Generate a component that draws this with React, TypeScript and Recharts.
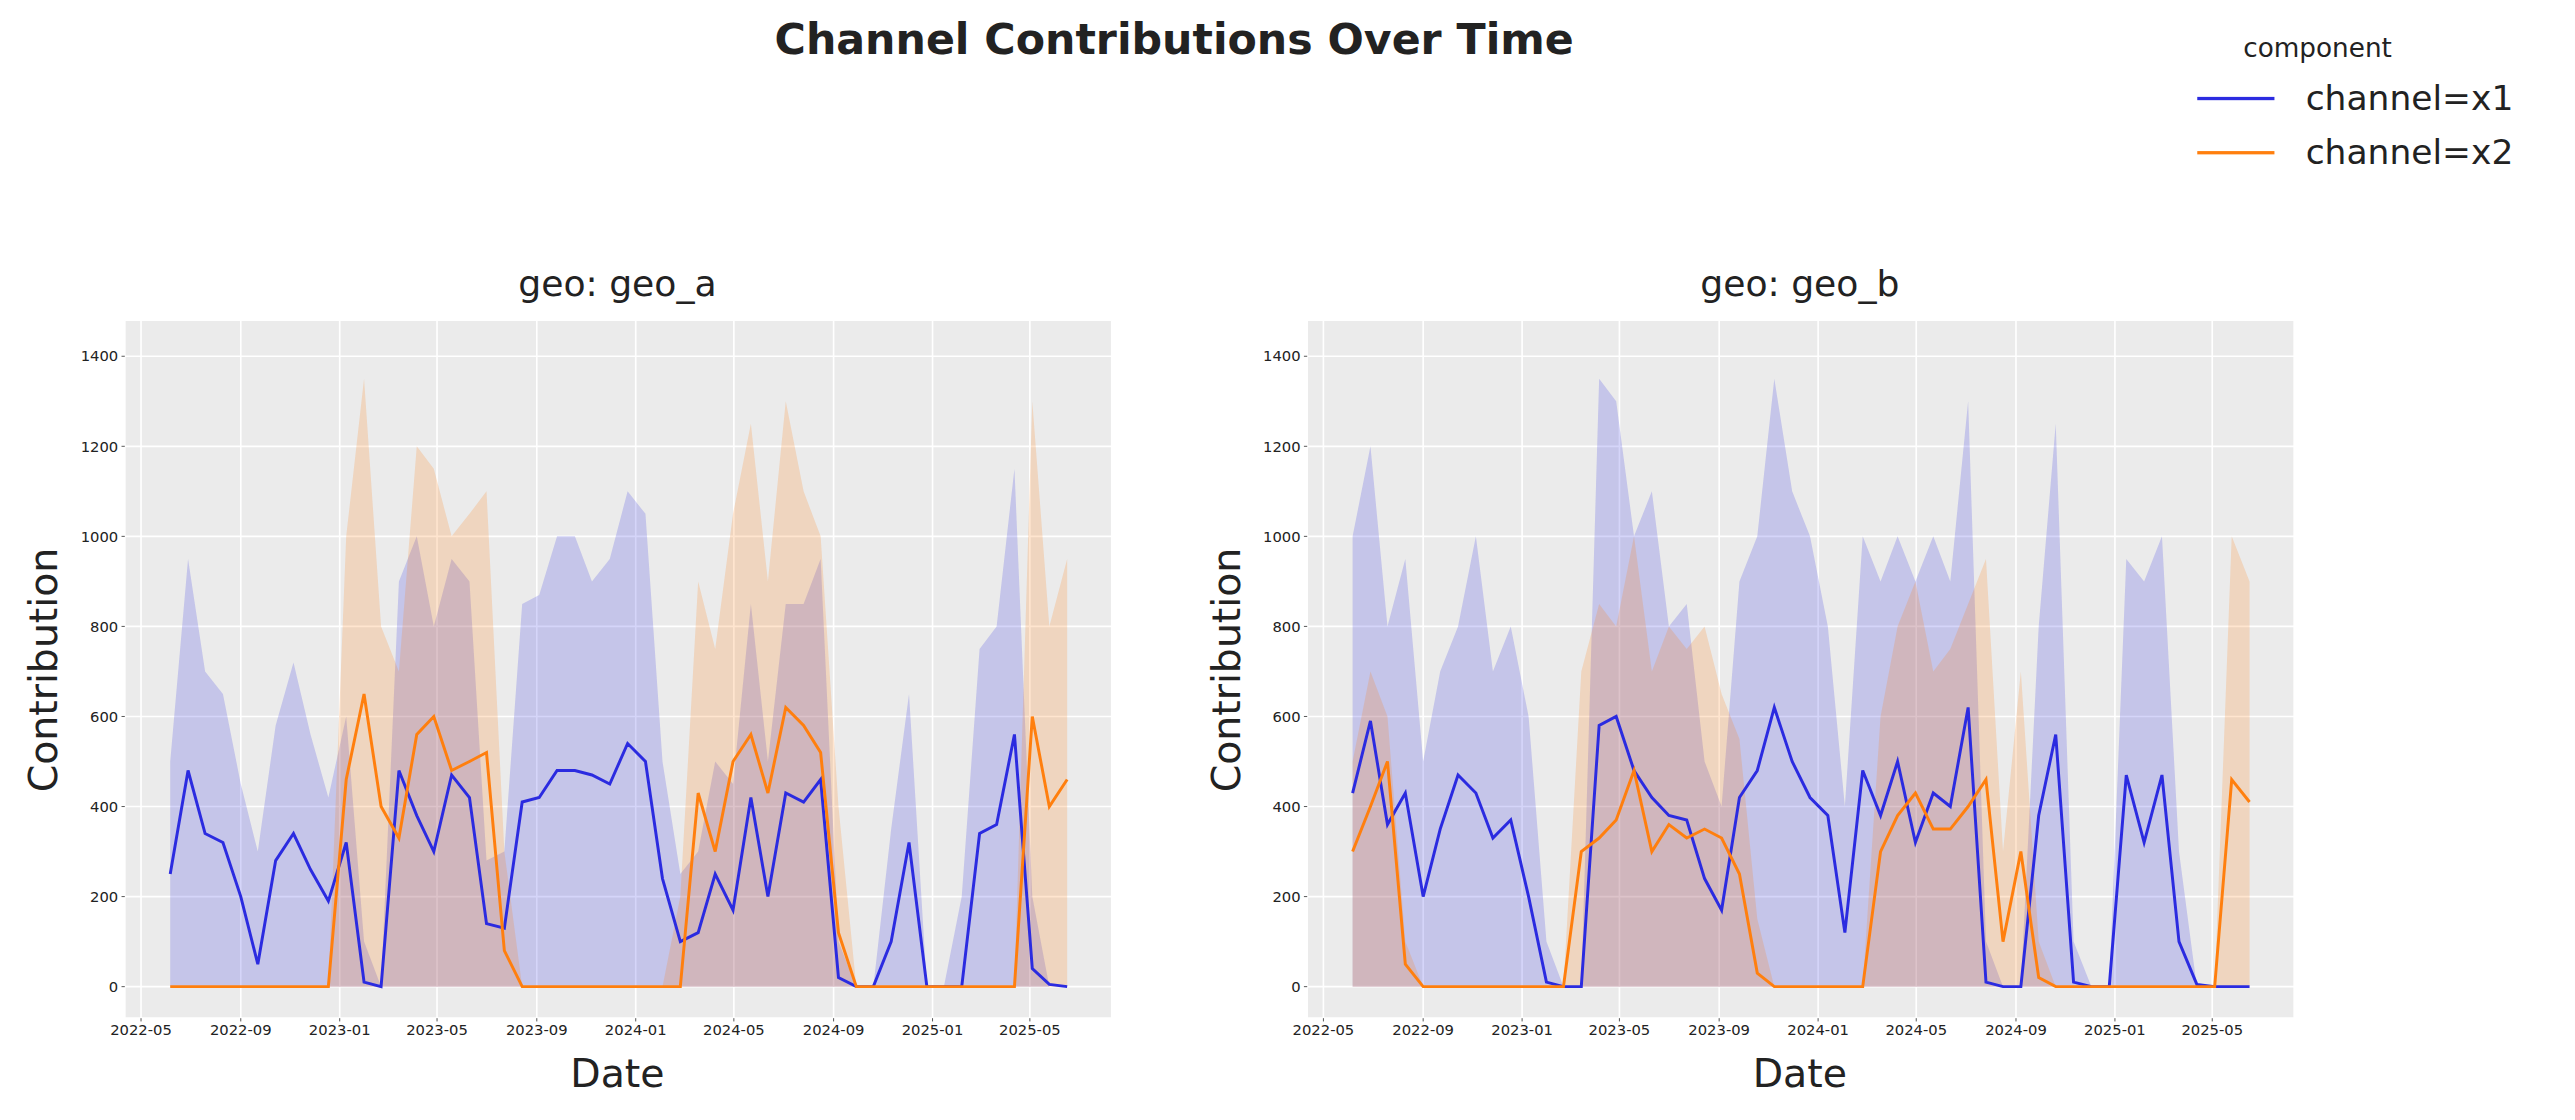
import React from "react";
import { Area, CartesianGrid, ComposedChart, Line, XAxis, YAxis } from "recharts";

const DAY = 86400000;
const START = Date.UTC(2022, 5, 6);
const END = Date.UTC(2025, 5, 16);
// weekly fits, sampled at 52 evenly spaced dates from first to last week
const dates = Array.from({ length: 52 }, (_, i) => START + Math.round(((END - START) / DAY) * (i / 51)) * DAY);

const aX1 = [250, 480, 340, 320, 200, 50, 280, 340, 260, 190, 320, 10, 0, 480, 380, 300, 470, 420, 140, 130, 410, 420, 480, 480, 470, 450, 540, 500, 240, 100, 120, 250, 170, 420, 200, 430, 410, 460, 20, 0, 0, 100, 320, 0, 0, 0, 340, 360, 560, 40, 5, 0];
const aX1Hi = [500, 950, 700, 650, 450, 300, 580, 720, 560, 420, 600, 100, 0, 900, 1000, 800, 950, 900, 280, 300, 850, 870, 1000, 1000, 900, 950, 1100, 1050, 500, 250, 300, 500, 450, 850, 500, 850, 850, 950, 100, 0, 0, 350, 650, 0, 0, 200, 750, 800, 1150, 200, 0, 0];
const aX2 = [0, 0, 0, 0, 0, 0, 0, 0, 0, 0, 460, 650, 400, 330, 560, 600, 480, 500, 520, 80, 0, 0, 0, 0, 0, 0, 0, 0, 0, 0, 430, 300, 500, 560, 430, 620, 580, 520, 120, 0, 0, 0, 0, 0, 0, 0, 0, 0, 0, 600, 400, 460];
const aX2Hi = [0, 0, 0, 0, 0, 0, 0, 0, 0, 0, 1000, 1350, 800, 700, 1200, 1150, 1000, 1050, 1100, 300, 0, 0, 0, 0, 0, 0, 0, 0, 0, 200, 900, 750, 1050, 1250, 900, 1300, 1100, 1000, 400, 0, 0, 0, 0, 0, 0, 0, 0, 0, 0, 1300, 800, 950];

const bX1 = [430, 590, 360, 430, 200, 350, 470, 430, 330, 370, 200, 10, 0, 0, 580, 600, 480, 420, 380, 370, 240, 170, 420, 480, 620, 500, 420, 380, 120, 480, 380, 500, 320, 430, 400, 620, 10, 0, 0, 380, 560, 10, 0, 0, 470, 320, 470, 100, 5, 0, 0, 0];
const bX1Hi = [1000, 1200, 800, 950, 500, 700, 800, 1000, 700, 800, 600, 100, 0, 0, 1350, 1300, 1000, 1100, 800, 850, 500, 400, 900, 1000, 1350, 1100, 1000, 800, 400, 1000, 900, 1000, 900, 1000, 900, 1300, 100, 0, 0, 800, 1250, 100, 0, 0, 950, 900, 1000, 300, 0, 0, 0, 0];
const bX2 = [300, 400, 500, 50, 0, 0, 0, 0, 0, 0, 0, 0, 0, 300, 330, 370, 480, 300, 360, 330, 350, 330, 250, 30, 0, 0, 0, 0, 0, 0, 300, 380, 430, 350, 350, 400, 460, 100, 300, 20, 0, 0, 0, 0, 0, 0, 0, 0, 0, 0, 460, 410];
const bX2Hi = [500, 700, 600, 100, 0, 0, 0, 0, 0, 0, 0, 0, 0, 700, 850, 800, 1000, 700, 800, 750, 800, 650, 550, 150, 0, 0, 0, 0, 0, 0, 600, 800, 900, 700, 750, 850, 950, 300, 700, 100, 0, 0, 0, 0, 0, 0, 0, 0, 0, 0, 1000, 900];

const xTicks = [
  Date.UTC(2022, 4, 1), Date.UTC(2022, 8, 1), Date.UTC(2023, 0, 1), Date.UTC(2023, 4, 1),
  Date.UTC(2023, 8, 1), Date.UTC(2024, 0, 1), Date.UTC(2024, 4, 1), Date.UTC(2024, 8, 1),
  Date.UTC(2025, 0, 1), Date.UTC(2025, 4, 1),
];
const yTicks = [0, 200, 400, 600, 800, 1000, 1200, 1400];

const BLUE = "#2b2be0";
const ORANGE = "#ff7f0e";

const fmt = (t: number) => {
  const d = new Date(t);
  return `${d.getUTCFullYear()}-${String(d.getUTCMonth() + 1).padStart(2, "0")}`;
};

function Panel({ left, title, x1, x1Hi, x2, x2Hi }: { left: number; title: string; x1: number[]; x1Hi: number[]; x2: number[]; x2Hi: number[] }) {
  const data = dates.map((t, i) => ({ t, x1: x1[i], b1: [0, x1Hi[i]], x2: x2[i], b2: [0, x2Hi[i]] }));
  return (
    <div style={{ position: "absolute", left, top: 0, width: 700, height: 700 }}>
      <div style={{ position: "absolute", left: 76, width: 600, top: 160, textAlign: "center", fontSize: 22, color: "#222" }}>{title}</div>
      <div style={{ position: "absolute", left: 12, top: 408, transform: "translate(0,-50%) rotate(-90deg)", transformOrigin: "center", width: 30, display: "flex", justifyContent: "center", whiteSpace: "nowrap", fontSize: 24, color: "#222" }}>
        Contribution
      </div>
      <div style={{ position: "absolute", left: 76, width: 600, top: 640, textAlign: "center", fontSize: 24, color: "#222" }}>Date</div>
      <ComposedChart width={700} height={700} data={data} margin={{ top: 195, right: 23, bottom: 50, left: 31 }}>
        <CartesianGrid fill="#ebebeb" stroke="#ffffff" strokeWidth={1} />
        <XAxis dataKey="t" type="number" scale="time" domain={[Date.UTC(2022, 3, 11), Date.UTC(2025, 7, 10)]} ticks={xTicks} tickFormatter={fmt} axisLine={false} tickLine={{ stroke: "#555", strokeWidth: 0.6 }} tickSize={2} tick={{ fontSize: 9, fill: "#222" }} height={30} />
        <YAxis domain={[-70, 1480]} ticks={yTicks} axisLine={false} tickLine={{ stroke: "#555", strokeWidth: 0.6 }} tickSize={2} tick={{ fontSize: 9, fill: "#222" }} width={45} />
        <Area dataKey="b1" stroke="none" fill={BLUE} fillOpacity={0.2} isAnimationActive={false} />
        <Area dataKey="b2" stroke="none" fill={ORANGE} fillOpacity={0.2} isAnimationActive={false} />
        <Line dataKey="x1" stroke={BLUE} strokeWidth={1.8} dot={false} isAnimationActive={false} />
        <Line dataKey="x2" stroke={ORANGE} strokeWidth={1.8} dot={false} isAnimationActive={false} />
      </ComposedChart>
    </div>
  );
}

export default function App() {
  return (
    <div style={{ position: "absolute", left: 0, top: 0, width: 2575, height: 1120, background: "#fff", overflow: "hidden" }}>
      <div style={{ position: "absolute", left: 0, top: 0, width: 1568, height: 682, transform: "scale(1.6422)", transformOrigin: "0 0", fontFamily: "'DejaVu Sans', sans-serif" }}>
        <div style={{ position: "absolute", left: 0, width: 1430, top: 9, textAlign: "center", fontSize: 26, fontWeight: "bold", color: "#222" }}>
          Channel Contributions Over Time
        </div>
        <div style={{ position: "absolute", left: 1366, top: 20, fontSize: 16, color: "#222" }}>component</div>
        {[["channel=x1", BLUE], ["channel=x2", ORANGE]].map(([label, c], i) => (
          <div key={label} style={{ position: "absolute", left: 1338, top: 48 + i * 33, display: "flex", alignItems: "center", fontSize: 21, color: "#222" }}>
            <div style={{ width: 47, height: 2.2, background: c, marginRight: 19 }} />
            {label}
          </div>
        ))}
        <Panel left={0} title="geo: geo_a" x1={aX1} x1Hi={aX1Hi} x2={aX2} x2Hi={aX2Hi} />
        <Panel left={720} title="geo: geo_b" x1={bX1} x1Hi={bX1Hi} x2={bX2} x2Hi={bX2Hi} />
      </div>
    </div>
  );
}
